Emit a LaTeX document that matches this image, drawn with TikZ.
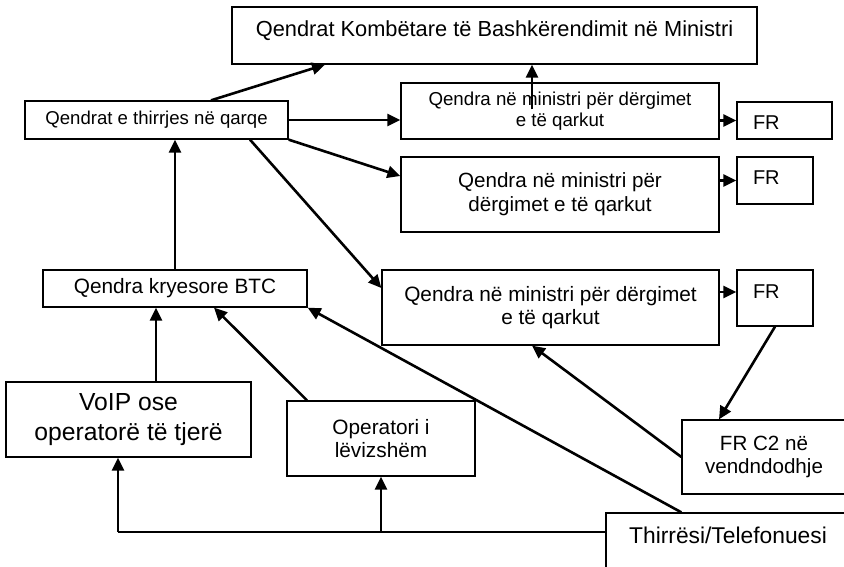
\documentclass[tikz,border=0pt]{standalone}
\usepackage{fontspec}
\setmainfont{Liberation Sans}
\usetikzlibrary{arrows.meta,calc}
\tikzset{
	box/.style={draw, line width=1.3pt, inner sep=0pt, align=center},
	arr/.style={line width=2.6pt, -{Triangle[length=13pt,width=12pt]}},
	feed/.style={line width=1.3pt},
}
\def\fs#1#2{\fontsize{#1}{#2}\selectfont}

\begin{document}
\begin{tikzpicture}[x=1pt, y=-1pt]
			%%%%% START %%%%%
			\useasboundingbox (0,0) rectangle (844,567);
			\clip (0,0) rectangle (844,567);
			
			\node[box, minimum width=525pt, text height=30pt, text depth=27pt, font=\fs{21.8}{26}] (kom) at (494.5, 35.5) {Qendrat Kombëtare të Bashkërendimit në Ministri};
			\node[box, minimum width=263pt, minimum height=38pt, font=\fs{18.6}{22}] (thir) at (156.5, 120) {Qendrat e thirrjes në qarqe};
			
			\node[box, minimum width=318pt, minimum height=56pt, font=\fs{18.7}{21}] (q1) at (560, 111) {Qendra në ministri për dërgimet\\e të qarkut};
			\node[box, minimum width=318pt, minimum height=75pt, font=\fs{20.6}{24}] (q2) at (560, 194.5) {Qendra në ministri për\\dërgimet e të qarkut};
			\node[box, minimum width=337pt, minimum height=75pt, font=\fs{20.8}{23}] (q3) at (550.5, 307.5) {Qendra në ministri për dërgimet\\e të qarkut};
			
			\node[box, inner xsep=16pt, text width=63pt, align=left, text height=28pt, text depth=9pt, font=\fs{20}{24}] (fr1) at (784.5, 120.5) {FR};
			\node[box, inner xsep=16pt, text width=44pt, align=left, text height=28pt, text depth=19pt, font=\fs{20}{24}] (fr2) at (775, 180.5) {FR};
			\node[box, inner xsep=16pt, text width=44pt, align=left, text height=28pt, text depth=28pt, font=\fs{20}{24}] (fr3) at (775, 298) {FR};
			
			\node[box, minimum width=264pt, minimum height=37pt, font=\fs{20.8}{24}] (btc) at (175, 288.5) {Qendra kryesore BTC};
			\node[box, minimum width=245pt, minimum height=75pt, font=\fs{24.7}{30}] (voip) at (128.5, 419.5) {VoIP ose\\operatorë të tjerë};
			\node[box, minimum width=188pt, minimum height=75pt, font=\fs{20.8}{23}] (oper) at (381, 438.5) {Operatori i\\lëvizshëm};
			\node[box, minimum width=164pt, minimum height=74pt, font=\fs{20.6}{23}] (frc2) at (764, 457) {FR C2 në\\vendndodhje};
			\node[box, minimum width=244pt, text height=30pt, text depth=57pt, font=\fs{22.8}{27}] (thr) at (728, 556.5) {Thirrësi/Telefonuesi};
			
			% from the district call centres
			\draw[arr] ([xshift=54.5pt]thir.north) -- ([xshift=-169.5pt]kom.south);
			\draw[arr] (thir.east) -- (thir.east -| q1.west);
			\draw[arr] (thir.south east) -- ([yshift=18.5pt]q2.west);
			\draw[arr] ([xshift=93.5pt]thir.south) -- ([yshift=19.5pt]q3.west);
			
			\coordinate (q1up) at ([xshift=-28pt, yshift=-27pt]q1.north);
			\draw[arr] (q1up) -- (q1up |- kom.south);
			
			\draw[arr] (fr1.west -| q1.east) -- (fr1.west);
			\draw[arr] (fr2.west -| q2.east) -- (fr2.west);
			\coordinate (fr3in) at ([yshift=6pt]fr3.west);
			\draw[arr] (fr3in -| q3.east) -- (fr3in);
			\draw[arr] (fr3.south) -- ([xshift=-45pt]frc2.north);
			\draw[arr] (frc2.west) -- ([xshift=-18.5pt]q3.south);
			
			% into the main BTC centre
			\draw[arr] (btc.north) -- (btc.north |- thir.south);
			\coordinate (voipup) at ([xshift=27.5pt]voip.north);
			\draw[arr] (voipup) -- (voipup |- btc.south);
			\draw[arr] ([xshift=-74pt]oper.north) -- ([xshift=39pt]btc.south);
			\draw[arr] ([xshift=76pt]thr.north west) -- (btc.south east);
			
			% caller line
			\coordinate (feed) at (118, 532);
			\draw[feed] (feed) -- (feed -| thr.west);
			\draw[arr] (feed) -- (feed |- voip.south);
			\draw[arr] (feed -| oper.south) -- (oper.south);
			
			%%%%% END %%%%%
\end{tikzpicture}
\end{document}
